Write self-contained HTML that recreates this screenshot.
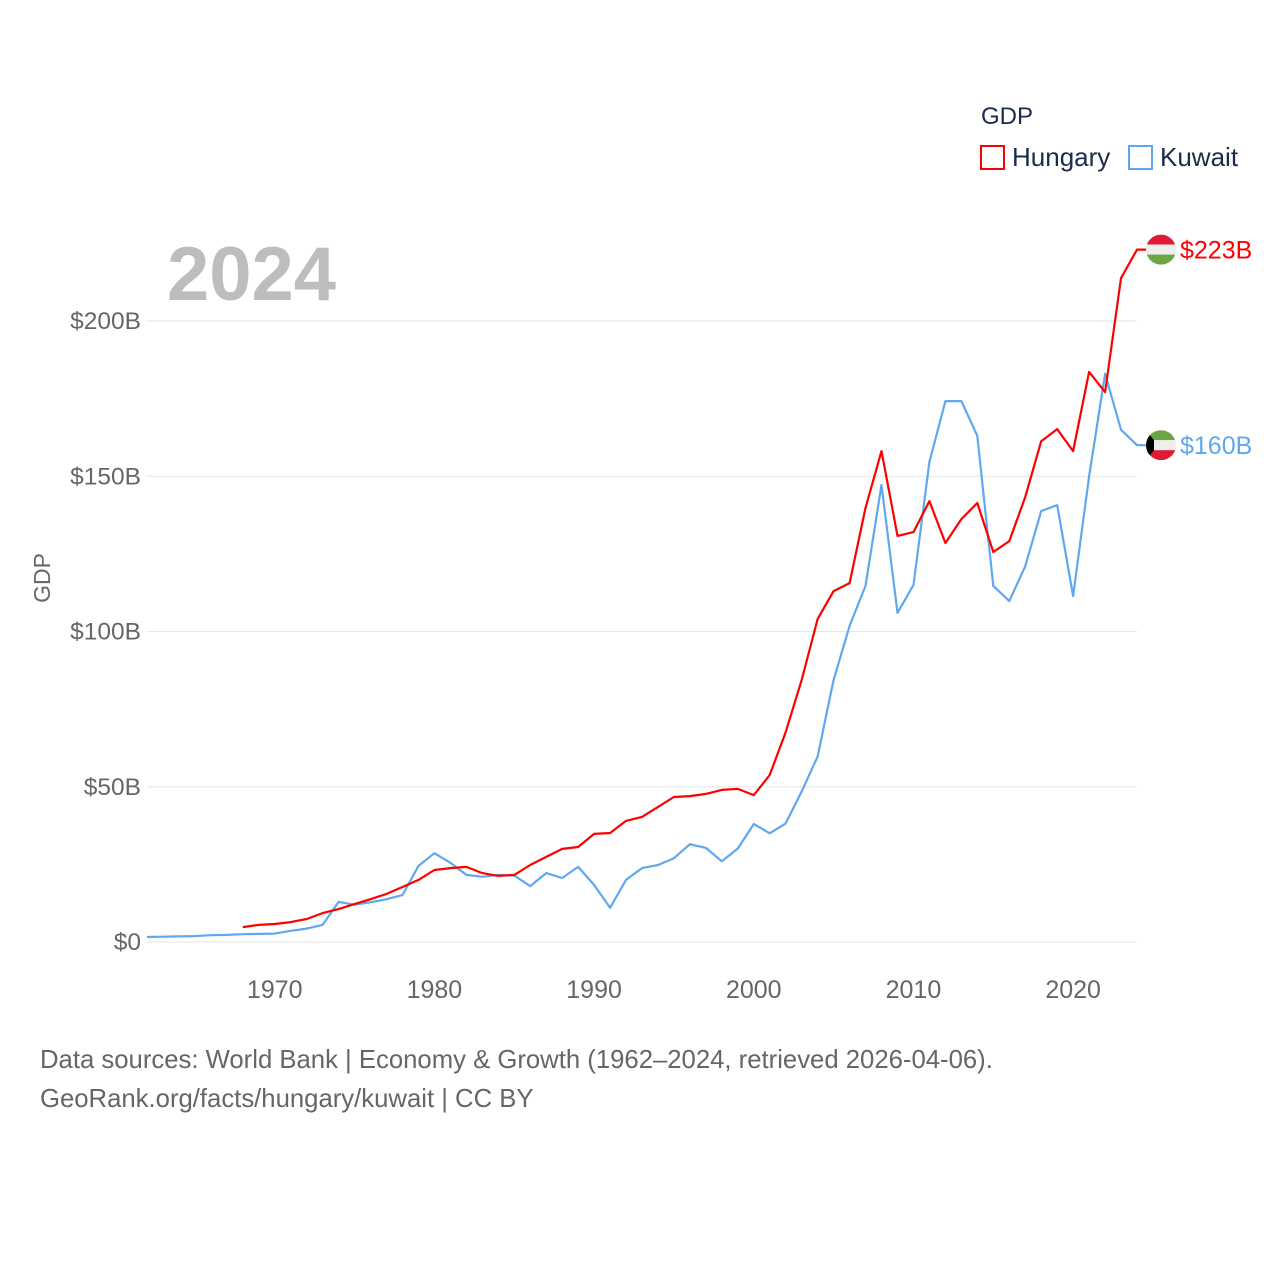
<!DOCTYPE html>
<html><head><meta charset="utf-8">
<style>
body{margin:0;background:#fff;}
svg text{font-family:"Liberation Sans",sans-serif;}
</style></head>
<body>
<svg id="chart" width="1280" height="1280" viewBox="0 0 1280 1280" xmlns="http://www.w3.org/2000/svg">
<rect width="1280" height="1280" fill="#fff"/>
<g id="grid"></g>
<text x="167" y="300" font-size="76" font-weight="bold" fill="#bdbdbd">2024</text>
<g id="series"></g>
<text transform="translate(50,578) rotate(-90)" text-anchor="middle" font-size="23" fill="#666">GDP</text>
<text x="981" y="124" font-size="24" fill="#1c2b4a">GDP</text>
<g>
<rect x="981" y="146" width="23" height="23" fill="none" stroke="#ff0000" stroke-width="2"/>
<text x="1012" y="166" font-size="26" fill="#1c2b4a">Hungary</text>
</g>
<g>
<rect x="1129" y="146" width="23" height="23" fill="none" stroke="#5fa8f0" stroke-width="2"/>
<text x="1160" y="166" font-size="26" fill="#1c2b4a">Kuwait</text>
</g>
<text x="40" y="1068" font-size="25.7" fill="#666">Data sources: World Bank | Economy &amp; Growth (1962–2024, retrieved 2026-04-06).</text>
<text x="40" y="1107" font-size="25.7" fill="#666">GeoRank.org/facts/hungary/kuwait | CC BY</text>
</svg>
<script>
const hungaryStart = 1968;
const hungaryValues = [4.8,5.5,5.8,6.4,7.4,9.3,10.6,12.2,13.8,15.5,17.7,20,23.2,23.8,24.2,22.2,21.3,21.6,24.8,27.4,30,30.6,34.8,35.1,39,40.3,43.5,46.7,47,47.7,49,49.3,47.3,53.8,67.6,84.4,104,113,115.6,139.8,158.1,130.8,132,142,128.5,136.2,141.4,125.6,129.1,143.3,161.3,165.2,158.1,183.6,177.1,213.8,223];
const kuwaitStart = 1962;
const kuwaitValues = [1.6,1.7,1.8,1.9,2.2,2.3,2.5,2.6,2.7,3.6,4.3,5.5,12.9,12,12.8,13.8,15.1,24.5,28.6,25.5,21.6,21,21.6,21.4,18,22.2,20.6,24.2,18.4,11,20,23.8,24.8,27,31.5,30.3,26,30.1,38,35,38.2,48.5,59.7,84.4,101.8,114.7,147.2,106,115,154.6,174.2,174.2,163,114.7,109.8,121,138.8,140.7,111.4,150,183,165,160];
const yTicks = [0,50,100,150,200];
const yTickLabels = ["$0","$50B","$100B","$150B","$200B"];
const xTicks = [1970,1980,1990,2000,2010,2020];

const NS="http://www.w3.org/2000/svg";
const X0=147, X1=1137, YR0=1962, YR1=2024;
function xs(yr){return X0+(yr-YR0)*(X1-X0)/(YR1-YR0);}
function ys(v){return 942-v*(942-321)/200;}
function mk(tag,attrs,parent){const e=document.createElementNS(NS,tag);for(const k in attrs)e.setAttribute(k,attrs[k]);parent.appendChild(e);return e;}

const grid=document.getElementById('grid');
yTicks.forEach((t,i)=>{
  const l=mk('line',{x1:X0,x2:X1,y1:ys(t),y2:ys(t),stroke:'#e6e6e6','stroke-width':1},grid);
  
  
  const tx=mk('text',{x:141,y:ys(t)+8,'text-anchor':'end','font-size':24.5,fill:'#666'},grid);
  
  
  tx.textContent=yTickLabels[i];
});
xTicks.forEach(t=>{
  const tx=mk('text',{x:xs(t),y:998,'text-anchor':'middle','font-size':25,fill:'#666'},grid);
  
  
  tx.textContent=t;
});

const ser=document.getElementById('series');
function drawLine(start,vals,color,name,label,flag){
  const pts=vals.map((v,i)=>xs(start+i).toFixed(1)+','+ys(v).toFixed(1));
  const last=vals[vals.length-1];
  pts.push((xs(YR1)+10)+','+ys(last).toFixed(1));
  const p=mk('polyline',{points:pts.join(' '),fill:'none',stroke:color,'stroke-width':2.2,'stroke-linejoin':'round'},ser);
  
  
  const cy=ys(last), cx=1161;
  const g=mk('g',{},ser);
  
  
  const id='clip-'+name;
  const cp=mk('clipPath',{id:id},g); mk('circle',{cx:cx,cy:cy,r:15},cp);
  const fg=mk('g',{'clip-path':'url(#'+id+')'},g);
  flag.forEach((c,i)=>mk('rect',{x:cx-15,y:cy-15+i*10,width:30,height:10,fill:c},fg));
  if(name==='kuwait') mk('polygon',{points:(cx-15)+','+(cy-15)+' '+(cx-7)+','+(cy-5)+' '+(cx-7)+','+(cy+5)+' '+(cx-15)+','+(cy+15),fill:'#000'},fg);
  const t=mk('text',{x:1180,y:cy+9,'font-size':25,fill:color},ser);
  
  
  t.textContent=label;
}
drawLine(kuwaitStart,kuwaitValues,'#5fa8f0','kuwait','$'+Math.round(kuwaitValues[kuwaitValues.length-1])+'B',['#6ca544','#eeeeee','#de1a34']);
drawLine(hungaryStart,hungaryValues,'#ff0000','hungary','$'+Math.round(hungaryValues[hungaryValues.length-1])+'B',['#de1a34','#eeeeee','#6ca544']);
</script>
</body></html>
